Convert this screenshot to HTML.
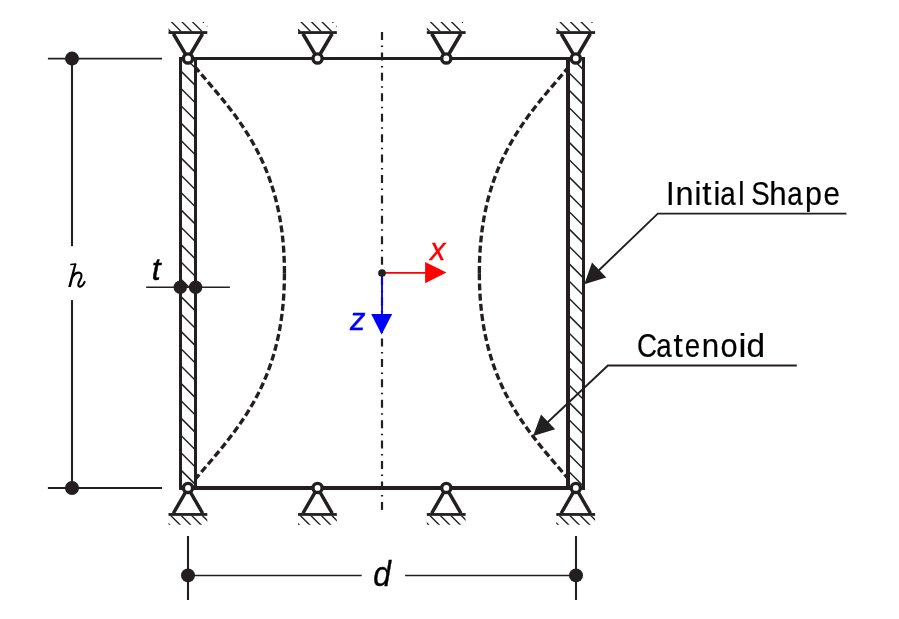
<!DOCTYPE html>
<html><head><meta charset="utf-8"><style>
html,body{margin:0;padding:0;background:#fff;overflow:hidden;}
svg{display:block;will-change:transform;}
</style></head><body>
<svg width="899" height="619" viewBox="0 0 899 619">
<rect width="899" height="619" fill="#fff"/>
<g fill="none" stroke="#231f20" stroke-width="3.35" stroke-dasharray="6.9 3.31">
<path d="M284.44,273.15 C284.44,156.94 230.91,110.75 188.0,58.4"/>
<path d="M284.44,273.15 C284.44,389.36 230.91,435.55 188.0,487.90"/>
<g transform="translate(763.80,0) scale(-1,1)">
<path d="M284.44,273.15 C284.44,156.94 230.91,110.75 188.0,58.4"/>
<path d="M284.44,273.15 C284.44,389.36 230.91,435.55 188.0,487.90"/>
</g></g>
<line x1="188" y1="58.5" x2="575.8" y2="58.5" stroke="#231f20" stroke-width="3"/>
<line x1="188" y1="488.0" x2="575.8" y2="488.0" stroke="#231f20" stroke-width="4"/>
<line x1="382.0" y1="32" x2="382.0" y2="511" stroke="#231f20" stroke-width="2.2" stroke-dasharray="8 5.5 1.5 5.43"/>
<rect x="180.5" y="57.0" width="15.0" height="432.8" fill="#fff"/>
<clipPath id="cw1"><rect x="181.5" y="57.0" width="13.0" height="432.8"/></clipPath>
<g clip-path="url(#cw1)" stroke="#231f20" stroke-width="1.45">
<line x1="180.0" y1="503.85" x2="196.0" y2="519.85"/>
<line x1="180.0" y1="486.50" x2="196.0" y2="502.50"/>
<line x1="180.0" y1="469.15" x2="196.0" y2="485.15"/>
<line x1="180.0" y1="451.80" x2="196.0" y2="467.80"/>
<line x1="180.0" y1="434.45" x2="196.0" y2="450.45"/>
<line x1="180.0" y1="417.10" x2="196.0" y2="433.10"/>
<line x1="180.0" y1="399.75" x2="196.0" y2="415.75"/>
<line x1="180.0" y1="382.40" x2="196.0" y2="398.40"/>
<line x1="180.0" y1="365.05" x2="196.0" y2="381.05"/>
<line x1="180.0" y1="347.70" x2="196.0" y2="363.70"/>
<line x1="180.0" y1="330.35" x2="196.0" y2="346.35"/>
<line x1="180.0" y1="313.00" x2="196.0" y2="329.00"/>
<line x1="180.0" y1="295.65" x2="196.0" y2="311.65"/>
<line x1="180.0" y1="278.30" x2="196.0" y2="294.30"/>
<line x1="180.0" y1="260.95" x2="196.0" y2="276.95"/>
<line x1="180.0" y1="243.60" x2="196.0" y2="259.60"/>
<line x1="180.0" y1="226.25" x2="196.0" y2="242.25"/>
<line x1="180.0" y1="208.90" x2="196.0" y2="224.90"/>
<line x1="180.0" y1="191.55" x2="196.0" y2="207.55"/>
<line x1="180.0" y1="174.20" x2="196.0" y2="190.20"/>
<line x1="180.0" y1="156.85" x2="196.0" y2="172.85"/>
<line x1="180.0" y1="139.50" x2="196.0" y2="155.50"/>
<line x1="180.0" y1="122.15" x2="196.0" y2="138.15"/>
<line x1="180.0" y1="104.80" x2="196.0" y2="120.80"/>
<line x1="180.0" y1="87.45" x2="196.0" y2="103.45"/>
<line x1="180.0" y1="70.10" x2="196.0" y2="86.10"/>
<line x1="180.0" y1="52.75" x2="196.0" y2="68.75"/>
<line x1="180.0" y1="35.40" x2="196.0" y2="51.40"/>
</g>
<line x1="180.5" y1="57.0" x2="180.5" y2="489.8" stroke="#231f20" stroke-width="3"/>
<line x1="195.5" y1="57.0" x2="195.5" y2="489.8" stroke="#231f20" stroke-width="3"/>
<line x1="179.0" y1="488.3" x2="197.0" y2="488.3" stroke="#231f20" stroke-width="3"/>
<rect x="568.0" y="57.0" width="15.5" height="432.8" fill="#fff"/>
<clipPath id="cw2"><rect x="569.5" y="57.0" width="13.0" height="432.8"/></clipPath>
<g clip-path="url(#cw2)" stroke="#231f20" stroke-width="1.45">
<line x1="568.0" y1="505.50" x2="584.0" y2="521.50"/>
<line x1="568.0" y1="488.15" x2="584.0" y2="504.15"/>
<line x1="568.0" y1="470.80" x2="584.0" y2="486.80"/>
<line x1="568.0" y1="453.45" x2="584.0" y2="469.45"/>
<line x1="568.0" y1="436.10" x2="584.0" y2="452.10"/>
<line x1="568.0" y1="418.75" x2="584.0" y2="434.75"/>
<line x1="568.0" y1="401.40" x2="584.0" y2="417.40"/>
<line x1="568.0" y1="384.05" x2="584.0" y2="400.05"/>
<line x1="568.0" y1="366.70" x2="584.0" y2="382.70"/>
<line x1="568.0" y1="349.35" x2="584.0" y2="365.35"/>
<line x1="568.0" y1="332.00" x2="584.0" y2="348.00"/>
<line x1="568.0" y1="314.65" x2="584.0" y2="330.65"/>
<line x1="568.0" y1="297.30" x2="584.0" y2="313.30"/>
<line x1="568.0" y1="279.95" x2="584.0" y2="295.95"/>
<line x1="568.0" y1="262.60" x2="584.0" y2="278.60"/>
<line x1="568.0" y1="245.25" x2="584.0" y2="261.25"/>
<line x1="568.0" y1="227.90" x2="584.0" y2="243.90"/>
<line x1="568.0" y1="210.55" x2="584.0" y2="226.55"/>
<line x1="568.0" y1="193.20" x2="584.0" y2="209.20"/>
<line x1="568.0" y1="175.85" x2="584.0" y2="191.85"/>
<line x1="568.0" y1="158.50" x2="584.0" y2="174.50"/>
<line x1="568.0" y1="141.15" x2="584.0" y2="157.15"/>
<line x1="568.0" y1="123.80" x2="584.0" y2="139.80"/>
<line x1="568.0" y1="106.45" x2="584.0" y2="122.45"/>
<line x1="568.0" y1="89.10" x2="584.0" y2="105.10"/>
<line x1="568.0" y1="71.75" x2="584.0" y2="87.75"/>
<line x1="568.0" y1="54.40" x2="584.0" y2="70.40"/>
<line x1="568.0" y1="37.05" x2="584.0" y2="53.05"/>
</g>
<line x1="568.0" y1="57.0" x2="568.0" y2="489.8" stroke="#231f20" stroke-width="4"/>
<line x1="583.5" y1="57.0" x2="583.5" y2="489.8" stroke="#231f20" stroke-width="3"/>
<line x1="566.0" y1="488.3" x2="585.0" y2="488.3" stroke="#231f20" stroke-width="3"/>
<path d="M173.40,33.75 L188.00,58.45 L202.60,33.75" fill="none" stroke="#231f20" stroke-width="3.5"/>
<rect x="168.50" y="31.15" width="38.8" height="2.8" fill="#231f20"/>
<clipPath id="hs0"><rect x="168.50" y="22.00" width="38.80" height="9.15"/></clipPath>
<g clip-path="url(#hs0)" stroke="#231f20" stroke-width="1.4">
<line x1="106.60" y1="20.00" x2="119.75" y2="33.15"/>
<line x1="117.10" y1="20.00" x2="130.25" y2="33.15"/>
<line x1="127.60" y1="20.00" x2="140.75" y2="33.15"/>
<line x1="138.10" y1="20.00" x2="151.25" y2="33.15"/>
<line x1="148.60" y1="20.00" x2="161.75" y2="33.15"/>
<line x1="159.10" y1="20.00" x2="172.25" y2="33.15"/>
<line x1="169.60" y1="20.00" x2="182.75" y2="33.15"/>
<line x1="180.10" y1="20.00" x2="193.25" y2="33.15"/>
<line x1="190.60" y1="20.00" x2="203.75" y2="33.15"/>
<line x1="201.10" y1="20.00" x2="214.25" y2="33.15" stroke-dasharray="0 2.6 1.2 4.5 1.2 10"/>
<line x1="211.60" y1="20.00" x2="224.75" y2="33.15"/>
<line x1="222.10" y1="20.00" x2="235.25" y2="33.15"/>
<line x1="232.60" y1="20.00" x2="245.75" y2="33.15"/>
<line x1="243.10" y1="20.00" x2="256.25" y2="33.15"/>
</g>
<circle cx="188.00" cy="58.45" r="4.6" fill="#fff" stroke="#231f20" stroke-width="3.4"/>
<path d="M173.40,513.25 L188.00,487.95 L202.60,513.25" fill="none" stroke="#231f20" stroke-width="3.5"/>
<rect x="168.50" y="513.05" width="38.8" height="2.8" fill="#231f20"/>
<clipPath id="hs10"><rect x="168.50" y="515.85" width="38.80" height="9.00"/></clipPath>
<g clip-path="url(#hs10)" stroke="#231f20" stroke-width="1.4">
<line x1="106.05" y1="513.85" x2="119.05" y2="526.85"/>
<line x1="116.55" y1="513.85" x2="129.55" y2="526.85"/>
<line x1="127.05" y1="513.85" x2="140.05" y2="526.85"/>
<line x1="137.55" y1="513.85" x2="150.55" y2="526.85"/>
<line x1="148.05" y1="513.85" x2="161.05" y2="526.85"/>
<line x1="158.55" y1="513.85" x2="171.55" y2="526.85"/>
<line x1="169.05" y1="513.85" x2="182.05" y2="526.85"/>
<line x1="179.55" y1="513.85" x2="192.55" y2="526.85"/>
<line x1="190.05" y1="513.85" x2="203.05" y2="526.85"/>
<line x1="200.55" y1="513.85" x2="213.55" y2="526.85"/>
<line x1="211.05" y1="513.85" x2="224.05" y2="526.85"/>
<line x1="221.55" y1="513.85" x2="234.55" y2="526.85"/>
<line x1="232.05" y1="513.85" x2="245.05" y2="526.85"/>
<line x1="242.55" y1="513.85" x2="255.55" y2="526.85"/>
</g>
<circle cx="188.00" cy="487.95" r="4.6" fill="#fff" stroke="#231f20" stroke-width="3.4"/>
<path d="M302.95,33.75 L317.55,58.45 L332.15,33.75" fill="none" stroke="#231f20" stroke-width="3.5"/>
<rect x="298.05" y="31.15" width="38.8" height="2.8" fill="#231f20"/>
<clipPath id="hs1"><rect x="298.05" y="22.00" width="38.80" height="9.15"/></clipPath>
<g clip-path="url(#hs1)" stroke="#231f20" stroke-width="1.4">
<line x1="236.15" y1="20.00" x2="249.30" y2="33.15"/>
<line x1="246.65" y1="20.00" x2="259.80" y2="33.15"/>
<line x1="257.15" y1="20.00" x2="270.30" y2="33.15"/>
<line x1="267.65" y1="20.00" x2="280.80" y2="33.15"/>
<line x1="278.15" y1="20.00" x2="291.30" y2="33.15"/>
<line x1="288.65" y1="20.00" x2="301.80" y2="33.15"/>
<line x1="299.15" y1="20.00" x2="312.30" y2="33.15"/>
<line x1="309.65" y1="20.00" x2="322.80" y2="33.15"/>
<line x1="320.15" y1="20.00" x2="333.30" y2="33.15"/>
<line x1="330.65" y1="20.00" x2="343.80" y2="33.15" stroke-dasharray="0 2.6 1.2 4.5 1.2 10"/>
<line x1="341.15" y1="20.00" x2="354.30" y2="33.15"/>
<line x1="351.65" y1="20.00" x2="364.80" y2="33.15"/>
<line x1="362.15" y1="20.00" x2="375.30" y2="33.15"/>
<line x1="372.65" y1="20.00" x2="385.80" y2="33.15"/>
</g>
<circle cx="317.55" cy="58.45" r="4.6" fill="#fff" stroke="#231f20" stroke-width="3.4"/>
<path d="M302.95,513.25 L317.55,487.95 L332.15,513.25" fill="none" stroke="#231f20" stroke-width="3.5"/>
<rect x="298.05" y="513.05" width="38.8" height="2.8" fill="#231f20"/>
<clipPath id="hs11"><rect x="298.05" y="515.85" width="38.80" height="9.00"/></clipPath>
<g clip-path="url(#hs11)" stroke="#231f20" stroke-width="1.4">
<line x1="235.60" y1="513.85" x2="248.60" y2="526.85"/>
<line x1="246.10" y1="513.85" x2="259.10" y2="526.85"/>
<line x1="256.60" y1="513.85" x2="269.60" y2="526.85"/>
<line x1="267.10" y1="513.85" x2="280.10" y2="526.85"/>
<line x1="277.60" y1="513.85" x2="290.60" y2="526.85"/>
<line x1="288.10" y1="513.85" x2="301.10" y2="526.85"/>
<line x1="298.60" y1="513.85" x2="311.60" y2="526.85"/>
<line x1="309.10" y1="513.85" x2="322.10" y2="526.85"/>
<line x1="319.60" y1="513.85" x2="332.60" y2="526.85"/>
<line x1="330.10" y1="513.85" x2="343.10" y2="526.85"/>
<line x1="340.60" y1="513.85" x2="353.60" y2="526.85"/>
<line x1="351.10" y1="513.85" x2="364.10" y2="526.85"/>
<line x1="361.60" y1="513.85" x2="374.60" y2="526.85"/>
<line x1="372.10" y1="513.85" x2="385.10" y2="526.85"/>
</g>
<circle cx="317.55" cy="487.95" r="4.6" fill="#fff" stroke="#231f20" stroke-width="3.4"/>
<path d="M431.70,33.75 L446.30,58.45 L460.90,33.75" fill="none" stroke="#231f20" stroke-width="3.5"/>
<rect x="426.80" y="31.15" width="38.8" height="2.8" fill="#231f20"/>
<clipPath id="hs2"><rect x="426.80" y="22.00" width="38.80" height="9.15"/></clipPath>
<g clip-path="url(#hs2)" stroke="#231f20" stroke-width="1.4">
<line x1="365.70" y1="20.00" x2="378.85" y2="33.15"/>
<line x1="376.20" y1="20.00" x2="389.35" y2="33.15"/>
<line x1="386.70" y1="20.00" x2="399.85" y2="33.15"/>
<line x1="397.20" y1="20.00" x2="410.35" y2="33.15"/>
<line x1="407.70" y1="20.00" x2="420.85" y2="33.15"/>
<line x1="418.20" y1="20.00" x2="431.35" y2="33.15"/>
<line x1="428.70" y1="20.00" x2="441.85" y2="33.15"/>
<line x1="439.20" y1="20.00" x2="452.35" y2="33.15"/>
<line x1="449.70" y1="20.00" x2="462.85" y2="33.15"/>
<line x1="460.20" y1="20.00" x2="473.35" y2="33.15" stroke-dasharray="0 2.6 1.2 4.5 1.2 10"/>
<line x1="470.70" y1="20.00" x2="483.85" y2="33.15"/>
<line x1="481.20" y1="20.00" x2="494.35" y2="33.15"/>
<line x1="491.70" y1="20.00" x2="504.85" y2="33.15"/>
<line x1="502.20" y1="20.00" x2="515.35" y2="33.15"/>
</g>
<circle cx="446.30" cy="58.45" r="4.6" fill="#fff" stroke="#231f20" stroke-width="3.4"/>
<path d="M431.70,513.25 L446.30,487.95 L460.90,513.25" fill="none" stroke="#231f20" stroke-width="3.5"/>
<rect x="426.80" y="513.05" width="38.8" height="2.8" fill="#231f20"/>
<clipPath id="hs12"><rect x="426.80" y="515.85" width="38.80" height="9.00"/></clipPath>
<g clip-path="url(#hs12)" stroke="#231f20" stroke-width="1.4">
<line x1="365.15" y1="513.85" x2="378.15" y2="526.85"/>
<line x1="375.65" y1="513.85" x2="388.65" y2="526.85"/>
<line x1="386.15" y1="513.85" x2="399.15" y2="526.85"/>
<line x1="396.65" y1="513.85" x2="409.65" y2="526.85"/>
<line x1="407.15" y1="513.85" x2="420.15" y2="526.85"/>
<line x1="417.65" y1="513.85" x2="430.65" y2="526.85"/>
<line x1="428.15" y1="513.85" x2="441.15" y2="526.85"/>
<line x1="438.65" y1="513.85" x2="451.65" y2="526.85"/>
<line x1="449.15" y1="513.85" x2="462.15" y2="526.85"/>
<line x1="459.65" y1="513.85" x2="472.65" y2="526.85"/>
<line x1="470.15" y1="513.85" x2="483.15" y2="526.85"/>
<line x1="480.65" y1="513.85" x2="493.65" y2="526.85"/>
<line x1="491.15" y1="513.85" x2="504.15" y2="526.85"/>
<line x1="501.65" y1="513.85" x2="514.65" y2="526.85"/>
</g>
<circle cx="446.30" cy="487.95" r="4.6" fill="#fff" stroke="#231f20" stroke-width="3.4"/>
<path d="M561.20,33.75 L575.80,58.45 L590.40,33.75" fill="none" stroke="#231f20" stroke-width="3.5"/>
<rect x="556.30" y="31.15" width="38.8" height="2.8" fill="#231f20"/>
<clipPath id="hs3"><rect x="556.30" y="22.00" width="38.80" height="9.15"/></clipPath>
<g clip-path="url(#hs3)" stroke="#231f20" stroke-width="1.4">
<line x1="495.20" y1="20.00" x2="508.35" y2="33.15"/>
<line x1="505.70" y1="20.00" x2="518.85" y2="33.15"/>
<line x1="516.20" y1="20.00" x2="529.35" y2="33.15"/>
<line x1="526.70" y1="20.00" x2="539.85" y2="33.15"/>
<line x1="537.20" y1="20.00" x2="550.35" y2="33.15"/>
<line x1="547.70" y1="20.00" x2="560.85" y2="33.15"/>
<line x1="558.20" y1="20.00" x2="571.35" y2="33.15"/>
<line x1="568.70" y1="20.00" x2="581.85" y2="33.15"/>
<line x1="579.20" y1="20.00" x2="592.35" y2="33.15"/>
<line x1="589.70" y1="20.00" x2="602.85" y2="33.15" stroke-dasharray="0 2.6 1.2 4.5 1.2 10"/>
<line x1="600.20" y1="20.00" x2="613.35" y2="33.15"/>
<line x1="610.70" y1="20.00" x2="623.85" y2="33.15"/>
<line x1="621.20" y1="20.00" x2="634.35" y2="33.15"/>
<line x1="631.70" y1="20.00" x2="644.85" y2="33.15"/>
</g>
<circle cx="575.80" cy="58.45" r="4.6" fill="#fff" stroke="#231f20" stroke-width="3.4"/>
<path d="M561.20,513.25 L575.80,487.95 L590.40,513.25" fill="none" stroke="#231f20" stroke-width="3.5"/>
<rect x="556.30" y="513.05" width="38.8" height="2.8" fill="#231f20"/>
<clipPath id="hs13"><rect x="556.30" y="515.85" width="38.80" height="9.00"/></clipPath>
<g clip-path="url(#hs13)" stroke="#231f20" stroke-width="1.4">
<line x1="494.65" y1="513.85" x2="507.65" y2="526.85"/>
<line x1="505.15" y1="513.85" x2="518.15" y2="526.85"/>
<line x1="515.65" y1="513.85" x2="528.65" y2="526.85"/>
<line x1="526.15" y1="513.85" x2="539.15" y2="526.85"/>
<line x1="536.65" y1="513.85" x2="549.65" y2="526.85"/>
<line x1="547.15" y1="513.85" x2="560.15" y2="526.85"/>
<line x1="557.65" y1="513.85" x2="570.65" y2="526.85"/>
<line x1="568.15" y1="513.85" x2="581.15" y2="526.85"/>
<line x1="578.65" y1="513.85" x2="591.65" y2="526.85"/>
<line x1="589.15" y1="513.85" x2="602.15" y2="526.85"/>
<line x1="599.65" y1="513.85" x2="612.65" y2="526.85"/>
<line x1="610.15" y1="513.85" x2="623.15" y2="526.85"/>
<line x1="620.65" y1="513.85" x2="633.65" y2="526.85"/>
<line x1="631.15" y1="513.85" x2="644.15" y2="526.85"/>
</g>
<circle cx="575.80" cy="487.95" r="4.6" fill="#fff" stroke="#231f20" stroke-width="3.4"/>
<line x1="47.9" y1="58.55" x2="162" y2="58.55" stroke="#231f20" stroke-width="1.7"/>
<line x1="47.9" y1="488" x2="162" y2="488" stroke="#231f20" stroke-width="2.1"/>
<line x1="72" y1="58.6" x2="72" y2="246.2" stroke="#231f20" stroke-width="2.1"/>
<line x1="72" y1="300.1" x2="72" y2="488" stroke="#231f20" stroke-width="2.1"/>
<circle cx="72" cy="58.6" r="7.0" fill="#231f20"/>
<circle cx="72" cy="488" r="7.0" fill="#231f20"/>
<line x1="188" y1="536" x2="188" y2="600" stroke="#231f20" stroke-width="2.1"/>
<line x1="576" y1="536" x2="576" y2="600" stroke="#231f20" stroke-width="2.1"/>
<line x1="188" y1="575.5" x2="361.7" y2="575.5" stroke="#231f20" stroke-width="1.7"/>
<line x1="405.1" y1="575.5" x2="576" y2="575.5" stroke="#231f20" stroke-width="1.7"/>
<circle cx="188" cy="575.4" r="7.0" fill="#231f20"/>
<circle cx="576" cy="575.4" r="7.0" fill="#231f20"/>
<line x1="146.2" y1="287.35" x2="229.9" y2="287.35" stroke="#231f20" stroke-width="1.5"/>
<circle cx="180.3" cy="287.3" r="6.75" fill="#231f20"/>
<circle cx="195.6" cy="287.3" r="6.75" fill="#231f20"/>
<line x1="382.0" y1="272.9" x2="428" y2="272.9" stroke="#ff0000" stroke-width="1.9"/>
<path d="M425.1,262.1 L446.4,272.6 L425.1,283.2 Z" fill="#ff0000"/>
<line x1="382.0" y1="273.1" x2="382.0" y2="316" stroke="#0000ff" stroke-width="1.9"/>
<path d="M371.2,314 L392.2,314 L381.6,334.6 Z" fill="#0000ff"/>
<circle cx="382.0" cy="273.0" r="3.85" fill="#231f20"/>
<polyline points="846.4,213.6 657.8,213.6 592.95,275.98" fill="none" stroke="#231f20" stroke-width="1.9"/>
<path d="M584.3,284.3 L592.01,262.60 L606.29,277.44 Z" fill="#231f20"/>
<polyline points="796.8,365.5 607.9,365.5 541.83,427.77" fill="none" stroke="#231f20" stroke-width="1.9"/>
<path d="M533.1,436.0 L541.03,414.38 L555.16,429.37 Z" fill="#231f20"/>
<text transform="translate(666.09,204.7) scale(0.950,1)" style="font-family:&quot;Liberation Sans&quot;,sans-serif" font-size="32.6" fill="#000" stroke="#000" stroke-width="0.2">I</text>
<text transform="translate(675.47,204.7) scale(0.996,1)" style="font-family:&quot;Liberation Sans&quot;,sans-serif" font-size="32.6" fill="#000" stroke="#000" stroke-width="0.2">n</text>
<text transform="translate(694.47,204.7) scale(0.948,1)" style="font-family:&quot;Liberation Sans&quot;,sans-serif" font-size="32.6" fill="#000" stroke="#000" stroke-width="0.2">i</text>
<text transform="translate(702.29,204.7) scale(1.017,1)" style="font-family:&quot;Liberation Sans&quot;,sans-serif" font-size="32.6" fill="#000" stroke="#000" stroke-width="0.2">t</text>
<text transform="translate(713.47,204.7) scale(0.948,1)" style="font-family:&quot;Liberation Sans&quot;,sans-serif" font-size="32.6" fill="#000" stroke="#000" stroke-width="0.2">i</text>
<text transform="translate(720.28,204.7) scale(0.850,1)" style="font-family:&quot;Liberation Sans&quot;,sans-serif" font-size="32.6" fill="#000" stroke="#000" stroke-width="0.2">a</text>
<text transform="translate(738.15,204.7) scale(0.863,1)" style="font-family:&quot;Liberation Sans&quot;,sans-serif" font-size="32.6" fill="#000" stroke="#000" stroke-width="0.2">l</text>
<text transform="translate(751.28,204.7) scale(0.850,1)" style="font-family:&quot;Liberation Sans&quot;,sans-serif" font-size="32.6" fill="#000" stroke="#000" stroke-width="0.2">S</text>
<text transform="translate(769.15,204.7) scale(0.960,1)" style="font-family:&quot;Liberation Sans&quot;,sans-serif" font-size="32.6" fill="#000" stroke="#000" stroke-width="0.2">h</text>
<text transform="translate(787.23,204.7) scale(0.850,1)" style="font-family:&quot;Liberation Sans&quot;,sans-serif" font-size="32.6" fill="#000" stroke="#000" stroke-width="0.2">a</text>
<text transform="translate(805.00,204.7) scale(0.934,1)" style="font-family:&quot;Liberation Sans&quot;,sans-serif" font-size="32.6" fill="#000" stroke="#000" stroke-width="0.2">p</text>
<text transform="translate(823.40,204.7) scale(0.904,1)" style="font-family:&quot;Liberation Sans&quot;,sans-serif" font-size="32.6" fill="#000" stroke="#000" stroke-width="0.2">e</text>
<text transform="translate(637.08,356.9) scale(0.850,1)" style="font-family:&quot;Liberation Sans&quot;,sans-serif" font-size="32.6" fill="#000" stroke="#000" stroke-width="0.2">C</text>
<text transform="translate(656.33,356.9) scale(0.850,1)" style="font-family:&quot;Liberation Sans&quot;,sans-serif" font-size="32.6" fill="#000" stroke="#000" stroke-width="0.2">a</text>
<text transform="translate(673.49,356.9) scale(1.017,1)" style="font-family:&quot;Liberation Sans&quot;,sans-serif" font-size="32.6" fill="#000" stroke="#000" stroke-width="0.2">t</text>
<text transform="translate(684.74,356.9) scale(0.850,1)" style="font-family:&quot;Liberation Sans&quot;,sans-serif" font-size="32.6" fill="#000" stroke="#000" stroke-width="0.2">e</text>
<text transform="translate(701.65,356.9) scale(0.960,1)" style="font-family:&quot;Liberation Sans&quot;,sans-serif" font-size="32.6" fill="#000" stroke="#000" stroke-width="0.2">n</text>
<text transform="translate(720.45,356.9) scale(0.943,1)" style="font-family:&quot;Liberation Sans&quot;,sans-serif" font-size="32.6" fill="#000" stroke="#000" stroke-width="0.2">o</text>
<text transform="translate(738.57,356.9) scale(1.100,1)" style="font-family:&quot;Liberation Sans&quot;,sans-serif" font-size="32.6" fill="#000" stroke="#000" stroke-width="0.2">i</text>
<text transform="translate(746.55,356.9) scale(1.022,1)" style="font-family:&quot;Liberation Sans&quot;,sans-serif" font-size="32.6" fill="#000" stroke="#000" stroke-width="0.2">d</text>
<g fill="none" stroke="#000" stroke-linecap="round"><path d="M74.3,264.0 L76.4,264.0 L70.9,287.0 L68.2,287.0 Z" fill="#000" stroke="none"/><path d="M70.9,264.6 L75.7,264.1" stroke-width="1.5"/><path d="M72.8,276.4 C74.7,273.5 76.8,272.5 78.9,272.6 C81.3,272.9 82.0,274.9 81.1,277.6 L78.6,283.0 C77.9,285.2 78.4,286.7 80.0,286.6 C81.9,286.4 83.6,284.4 84.6,281.9" stroke-width="2.1"/></g>
<text x="151.7" y="280.3" style="font-family:&quot;Liberation Sans&quot;,sans-serif;font-style:italic" font-size="32" fill="#000" stroke="#000" stroke-width="0.45">t</text>
<text transform="translate(373.2,585.8) scale(0.89,1)" x="0" y="0" style="font-family:&quot;Liberation Sans&quot;,sans-serif;font-style:italic" font-size="35.5" fill="#000" stroke="#000" stroke-width="0.35">d</text>
<text x="430" y="259.8" style="font-family:&quot;Liberation Sans&quot;,sans-serif;font-style:italic" font-size="31" fill="#ff0000" stroke="#ff0000" stroke-width="0.35">x</text>
<text x="350" y="329.9" style="font-family:&quot;Liberation Sans&quot;,sans-serif;font-style:italic" font-size="31" fill="#0000ff" stroke="#0000ff" stroke-width="0.35">z</text>
</svg></body></html>
